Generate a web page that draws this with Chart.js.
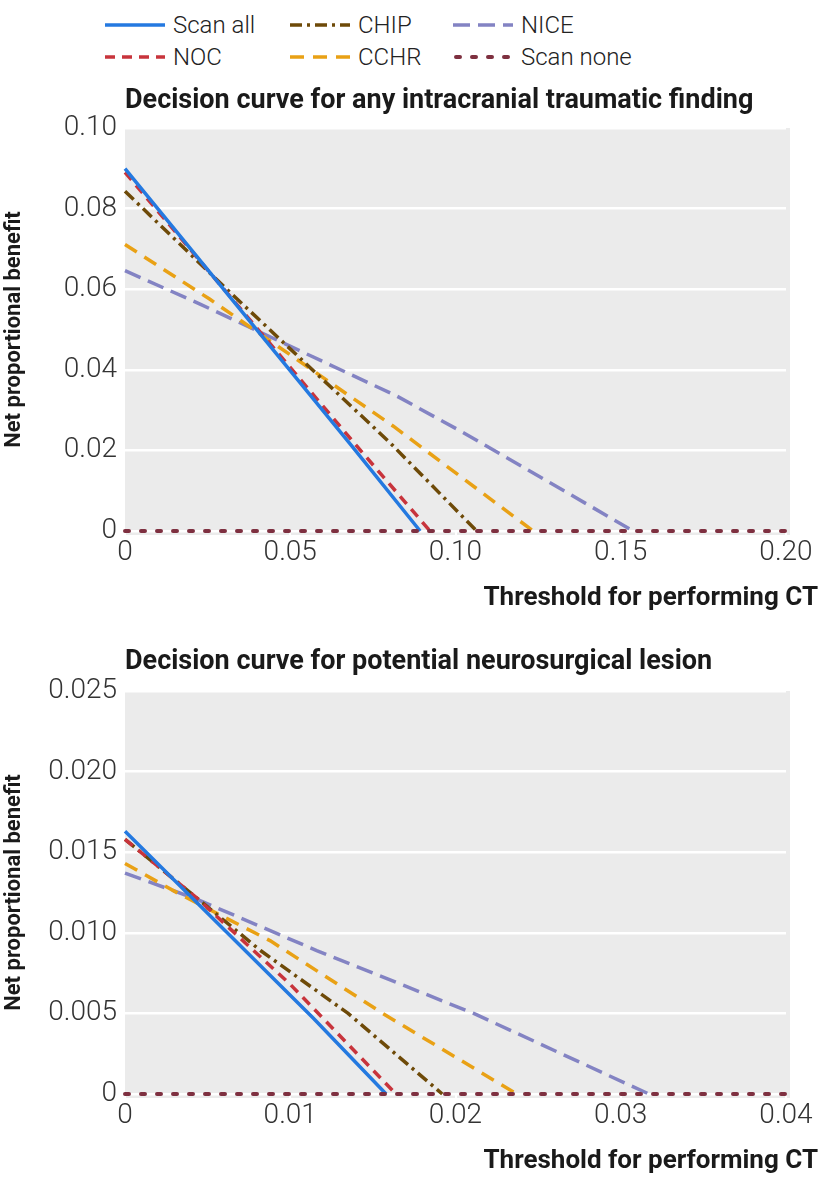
<!DOCTYPE html>
<html>
<head>
<meta charset="utf-8">
<script src="https://cdn.jsdelivr.net/npm/chart.js@4.4.1/dist/chart.umd.min.js"></script>
<style>
body { margin: 0; background: #fff; width: 824px; height: 1180px; position: relative; overflow: hidden; font-family: Roboto, "Noto Sans", sans-serif; }
canvas { position: absolute; left: 0; }
.item { position: absolute; height: 30px; display: flex; align-items: center; font-size: 24px; font-weight: 300; color: #222; white-space: nowrap; }
.item svg { margin-right: 8px; }
</style>
</head>
<body>
<div id="legend"></div>
<canvas id="chartTop" width="824" height="548" style="top:72px"></canvas>
<canvas id="chartBottom" width="824" height="548" style="top:632px"></canvas>
<script>
// series, drawing order (first one ends up on top)
const seriesNames = ['Scan none', 'Scan all', 'NOC', 'CHIP', 'CCHR', 'NICE'];
const seriesColors = ['#7e3040', '#2479e0', '#c8343c', '#6e4a08', '#e9a115', '#8383c3'];
const seriesDash = [[4, 12], [], [10, 7], [12, 5, 3, 5], [14, 9], [17, 8]];

// top panel: any intracranial traumatic finding  [threshold, net benefit]
const scanNoneTop = [[0, 0], [0.2, 0]];
const scanAllTop = [[0, 0.0899], [0.0686, 0.0211], [0.0893, 0]];
const nocTop = [[0, 0.089], [0.0701, 0.0211], [0.0923, 0]];
const chipTop = [[0, 0.0843], [0.0318, 0.0592], [0.0802, 0.0219], [0.1064, 0]];
const cchrTop = [[0, 0.0711], [0.0257, 0.0575], [0.0812, 0.026], [0.1235, 0]];
const niceTop = [[0, 0.0646], [0.0227, 0.0563], [0.0822, 0.0335], [0.1024, 0.0244], [0.1538, 0]];

const xTicksTop = [0, 0.05, 0.1, 0.15, 0.2];
const xLabelsTop = ['0', '0.05', '0.10', '0.15', '0.20'];
const yTicksTop = [0, 0.02, 0.04, 0.06, 0.08, 0.1];
const yLabelsTop = ['0', '0.02', '0.04', '0.06', '0.08', '0.10'];

// bottom panel: potential neurosurgical lesion
const scanNoneBot = [[0, 0], [0.04, 0]];
const scanAllBot = [[0, 0.0163], [0.0114, 0.0047], [0.0158, 0]];
const nocBot = [[0, 0.0158], [0.0043, 0.0122], [0.01, 0.0068], [0.0164, 0]];
const chipBot = [[0, 0.0158], [0.0043, 0.0122], [0.0082, 0.0089], [0.0135, 0.005], [0.0192, 0]];
const cchrBot = [[0, 0.0143], [0.0033, 0.0124], [0.0088, 0.0095], [0.0156, 0.005], [0.0237, 0]];
const niceBot = [[0, 0.0137], [0.0043, 0.0121], [0.0116, 0.0089], [0.0211, 0.005], [0.0317, 0]];

const xTicksBot = [0, 0.01, 0.02, 0.03, 0.04];
const xLabelsBot = ['0', '0.01', '0.02', '0.03', '0.04'];
const yTicksBot = [0, 0.005, 0.01, 0.015, 0.02, 0.025];
const yLabelsBot = ['0', '0.005', '0.010', '0.015', '0.020', '0.025'];

const legendOrder = ['Scan all', 'CHIP', 'NICE', 'NOC', 'CCHR', 'Scan none'];

const FONT = 'Roboto, "Noto Sans", sans-serif';

// legend (html, 3 columns x 2 rows)
const legendEl = document.getElementById('legend');
const colX = [105, 290, 453];
const rowY = [10, 42];
legendOrder.forEach((name, i) => {
    const k = seriesNames.indexOf(name);
    const div = document.createElement('div');
    div.className = 'item';
    div.style.left = colX[i % 3] + 'px';
    div.style.top = rowY[Math.floor(i / 3)] + 'px';
    const dash = seriesDash[k].join(' ');
    const cap = name === 'Scan none' ? 'round' : 'butt';
    div.innerHTML = '<svg width="60" height="10"><line x1="' + (cap === 'round' ? 3 : 0) + '" y1="5" x2="60" y2="5" stroke="' +
        seriesColors[k] + '" stroke-width="' + (k === 0 ? 4 : 3.5) + '" stroke-linecap="' + cap + '" stroke-dasharray="' + dash + '"/></svg>' +
        '<span>' + name + '</span>';
    legendEl.appendChild(div);
});

const bgPlugin = {
    id: 'panelBg',
    beforeDraw(chart) {
        const a = chart.chartArea;
        const c = chart.ctx;
        c.save();
        c.fillStyle = '#ebebeb';
        c.fillRect(a.left, a.top, a.right - a.left + 4, a.bottom - a.top + 4);
        c.restore();
    },
    afterDraw(chart, args, opts) {
        const a = chart.chartArea;
        const c = chart.ctx;
        c.save();
        c.font = 'bold 26px ' + FONT;
        c.fillStyle = '#1a1a1a';
        c.textAlign = 'right';
        c.textBaseline = 'middle';
        c.fillText(opts.xTitle, 818, a.bottom + 67);
        c.restore();
    }
};

function makeChart(id, series, xTicks, xLabels, yTicks, yLabels, yMax, xMax, title, chartTop, titlePadTop) {
    const datasets = series.map((pts, k) => ({
        label: seriesNames[k],
        data: pts.map(p => ({ x: p[0], y: p[1] })),
        borderColor: seriesColors[k],
        borderWidth: k === 0 ? 4 : 3.5,
        borderDash: seriesDash[k],
        borderCapStyle: k === 0 ? 'round' : 'butt',
        pointRadius: 0,
        tension: 0,
        fill: false,
        clip: 8
    }));
    const titleH = 27 * 1.2;
    return new Chart(document.getElementById(id), {
        type: 'line',
        data: { datasets: datasets },
        options: {
            responsive: false,
            animation: false,
            layout: { padding: { left: 0, right: 38, top: 0, bottom: 0 } },
            plugins: {
                legend: { display: false },
                tooltip: { enabled: false },
                title: {
                    display: true,
                    text: title,
                    align: 'start',
                    fullSize: false,
                    color: '#1a1a1a',
                    font: { family: FONT, size: 27, weight: 'bold' },
                    padding: { top: titlePadTop, bottom: chartTop - titlePadTop - titleH }
                },
                panelBg: { xTitle: 'Threshold for performing CT' }
            },
            scales: {
                x: {
                    type: 'linear',
                    min: 0,
                    max: xMax,
                    afterBuildTicks: s => { s.ticks = xTicks.map(v => ({ value: v })); },
                    afterFit: s => { s.height = 548 - (chartTop + 403); },
                    ticks: {
                        callback: (v, i) => xLabels[i],
                        color: '#333',
                        font: { family: FONT, size: 28, weight: '300' },
                        padding: 0,
                        maxRotation: 0
                    },
                    grid: { drawOnChartArea: false, drawTicks: true, tickLength: 5, color: '#ffffff', lineWidth: 2 },
                    border: { display: false }
                },
                y: {
                    min: 0,
                    max: yMax,
                    afterBuildTicks: s => { s.ticks = yTicks.map(v => ({ value: v })); },
                    afterFit: s => { s.width = 125; },
                    ticks: {
                        callback: (v, i) => yLabels[i],
                        color: '#333',
                        font: { family: FONT, size: 28, weight: '300' },
                        padding: 8
                    },
                    grid: { color: '#ffffff', lineWidth: 2.5, drawTicks: false },
                    border: { display: false },
                    title: {
                        display: true,
                        text: 'Net proportional benefit',
                        color: '#1a1a1a',
                        font: { family: FONT, size: 22, weight: 'bold' },
                        padding: { top: 1, bottom: 0 }
                    }
                }
            }
        },
        plugins: [bgPlugin]
    });
}

makeChart('chartTop', [scanNoneTop, scanAllTop, nocTop, chipTop, cchrTop, niceTop],
    xTicksTop, xLabelsTop, yTicksTop, yLabelsTop, 0.1, 0.2,
    'Decision curve for any intracranial traumatic finding', 56, 13);
makeChart('chartBottom', [scanNoneBot, scanAllBot, nocBot, chipBot, cchrBot, niceBot],
    xTicksBot, xLabelsBot, yTicksBot, yLabelsBot, 0.025, 0.04,
    'Decision curve for potential neurosurgical lesion', 59, 14);
</script>
</body>
</html>
